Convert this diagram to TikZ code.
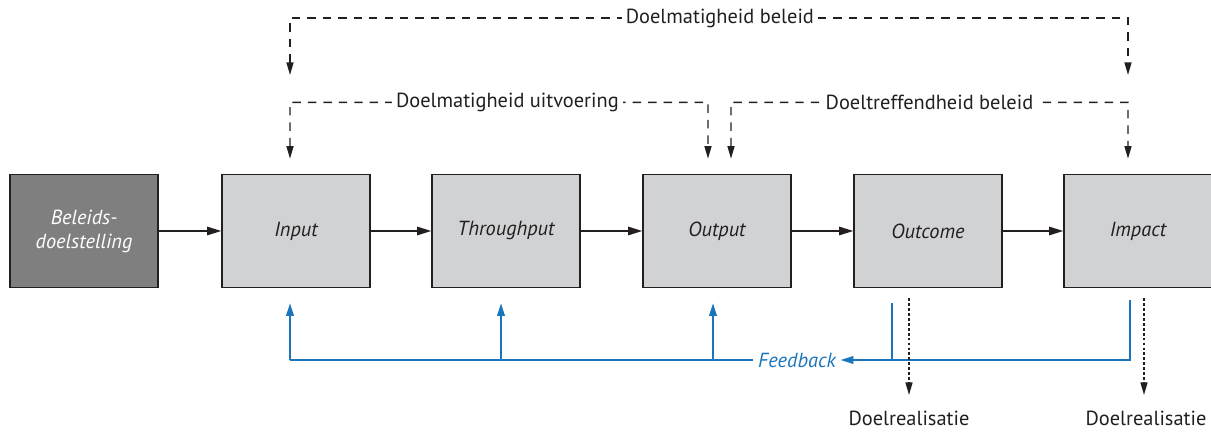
\documentclass[tikz,border=0pt]{standalone}
\usepackage{fontspec}
\setmainfont{PT Sans}
\usetikzlibrary{arrows.meta, positioning}

\definecolor{boxdark}{HTML}{7F7F80}
\definecolor{boxlight}{HTML}{D1D2D4}
\definecolor{lineblack}{HTML}{231F20}
\definecolor{fbblue}{HTML}{1B75BB}

\tikzset{
    stage/.style={rectangle, draw=lineblack, line width=1.1pt, fill=boxlight,
        minimum width=3.7cm, minimum height=2.825cm, inner sep=0pt,
        font=\fontsize{14.5}{17}\selectfont\itshape, text=lineblack},
    flow/.style={-{Triangle[length=10pt, width=6pt]}, line width=1pt, draw=lineblack},
    dasharrow/.style={{Triangle[length=9pt, width=5pt]}-{Triangle[length=9pt, width=5pt]},
        line width=1pt, draw=lineblack, dash pattern=on 6pt off 5pt},
    dotarrow/.style={-{Triangle[length=9pt, width=5pt]}, line width=1pt, draw=lineblack,
        dash pattern=on 2pt off 1.5pt},
    fback/.style={line width=1.2pt, draw=fbblue},
    fbarrow/.style={fback, -{Triangle[length=9pt, width=5.5pt]}},
    lbl/.style={fill=white, inner sep=3pt, font=\fontsize{14.5}{17}\selectfont, text=lineblack}
}

\begin{document}
\begin{tikzpicture}[x=0.025cm, y=-0.025cm]
    \useasboundingbox (0,0) rectangle (1211,432);

    % Draw stages
    \node[stage, fill=boxdark, text=white, align=center] (beleid) at (84,231) {Beleids-\\doelstelling};
    \node[stage] (input) at (296,231) {Input};
    \node[stage] (throughput) at (506,231) {Throughput};
    \node[stage] (output) at (717,231) {Output};
    \node[stage] (outcome) at (928,231) {Outcome};
    \node[stage] (impact) at (1138,231) {Impact};

    % Draw main flow
    \draw[flow] (beleid) -- (input);
    \draw[flow] (input) -- (throughput);
    \draw[flow] (throughput) -- (output);
    \draw[flow] (output) -- (outcome);
    \draw[flow] (outcome) -- (impact);

    % Dashed measures
    \coordinate (topl) at (290,75);
    \coordinate (topr) at (1128,75);
    \draw[dasharrow] (topl) -- (290,18) -- node[lbl, pos=0.513] {Doelmatigheid beleid} (1128,18) -- (topr);
    \draw[dasharrow] ([xshift=-0.15cm, yshift=0.375cm]input.north) -- (290,102.4)
        -- node[lbl, pos=0.52] {Doelmatigheid uitvoering} (708,102.4) -- ([xshift=-0.225cm, yshift=0.375cm]output.north);
    \draw[dasharrow] ([xshift=0.35cm, yshift=0.375cm]output.north) -- (731,102.4)
        -- node[lbl, pos=0.5] {Doeltreffendheid beleid} (1128,102.4) -- ([xshift=-0.25cm, yshift=0.375cm]impact.north);

    % Feedback
    \coordinate (fbo) at (892,360);
    \coordinate (fbi) at (1130,360);
    \coordinate (fbl) at (290,360);
    \node[font=\fontsize{14.5}{17}\selectfont\itshape, text=fbblue] (feedback) at (797,360) {Feedback};
    \draw[fback] ([yshift=-0.375cm]outcome.south -| fbo) -- (fbo);
    \draw[fbarrow] ([yshift=-0.3cm]impact.south -| fbi) -- (fbi) -- (feedback.east);
    \draw[fback] (feedback.west) -- (fbl);
    \draw[fbarrow] (fbl) -- ([xshift=-0.15cm, yshift=-0.375cm]input.south);
    \draw[fbarrow] (fbl -| 501,0) -- ([xshift=-0.125cm, yshift=-0.375cm]throughput.south);
    \draw[fbarrow] (fbl -| 713,0) -- ([xshift=-0.1cm, yshift=-0.375cm]output.south);

    % Results
    \node[lbl, inner sep=1pt] (real1) at (909,418) {Doelrealisatie};
    \node[lbl, inner sep=1pt] (real2) at (1146,418) {Doelrealisatie};
    \draw[dotarrow] ([yshift=-0.25cm]outcome.south -| real1) -- ([yshift=0.35cm]real1.north);
    \draw[dotarrow] ([yshift=-0.25cm]impact.south -| 1144,0) -- ([yshift=0.35cm]real2.north -| 1144,0);
\end{tikzpicture}
\end{document}
